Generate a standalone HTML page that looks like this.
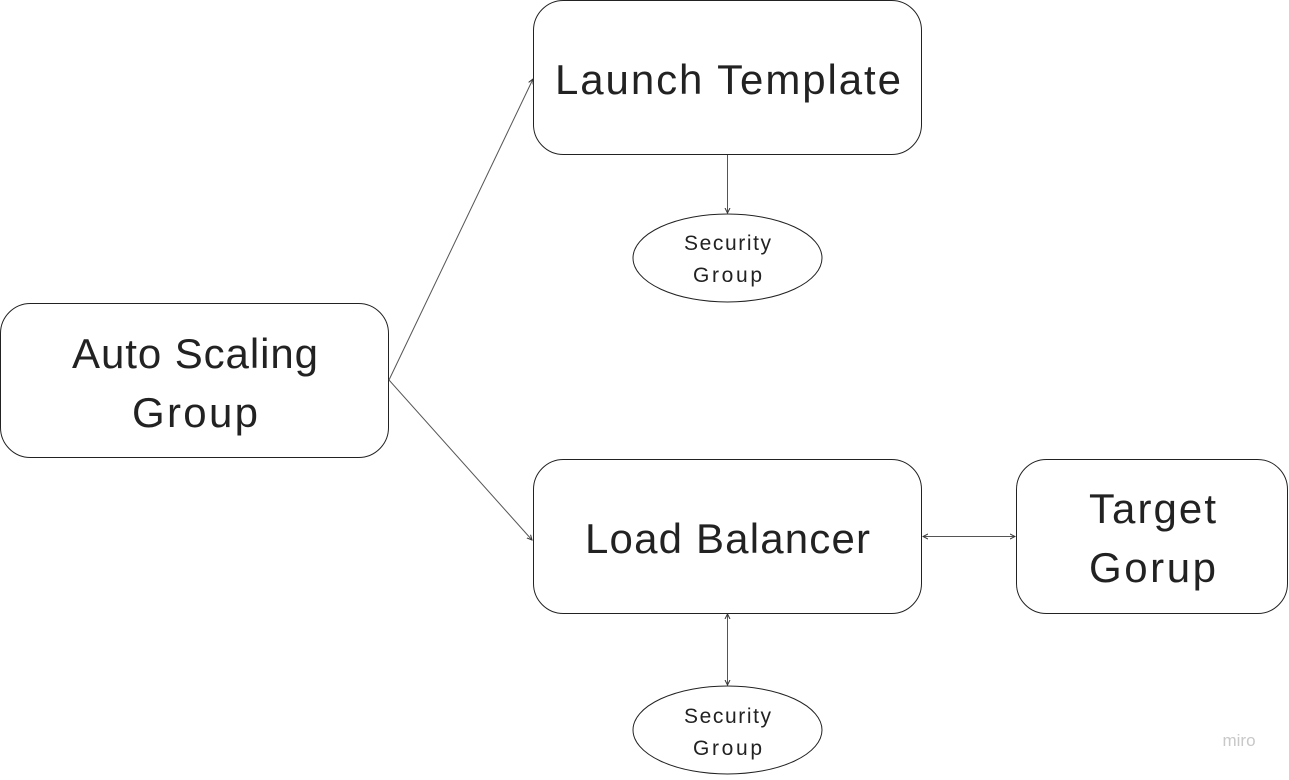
<!DOCTYPE html>
<html><head><style>
body{margin:0;background:#fff;width:1289px;height:775px;overflow:hidden;font-family:"Liberation Sans",sans-serif;}
</style></head><body>
<svg width="1289" height="775" xmlns="http://www.w3.org/2000/svg" font-family="Liberation Sans, sans-serif">
<defs><marker id="a" markerWidth="6" markerHeight="6" refX="5" refY="3" orient="auto-start-reverse"><path d="M0,0.5 L5,3 L0,5.5" fill="none" stroke="#333" stroke-width="1"/></marker></defs>
<g fill="#fff" stroke="#222" stroke-width="1">
<rect x="533.5" y="0.5" width="388" height="154" rx="30"/>
<rect x="0.5" y="303.5" width="388" height="154" rx="30"/>
<rect x="533.5" y="459.5" width="388" height="154" rx="30"/>
<rect x="1016.5" y="459.5" width="271" height="154" rx="30"/>
<ellipse cx="727.5" cy="258" rx="94.5" ry="44"/>
<ellipse cx="727.5" cy="730" rx="94.5" ry="44"/>
</g>
<g stroke="#555" stroke-width="1" fill="none">
<line x1="389" y1="380" x2="533" y2="79" marker-end="url(#a)"/>
<line x1="389" y1="380" x2="532" y2="540" marker-end="url(#a)"/>
<line x1="727.5" y1="155" x2="727.5" y2="213" marker-end="url(#a)"/>
<line x1="923" y1="536.5" x2="1015" y2="536.5" marker-start="url(#a)" marker-end="url(#a)"/>
<line x1="727.5" y1="614" x2="727.5" y2="685" marker-start="url(#a)" marker-end="url(#a)"/>
</g>
<g fill="#222" font-size="42" lengthAdjust="spacing">
<text x="555" y="94" textLength="346">Launch Template</text>
<text x="72" y="368" textLength="246">Auto Scaling</text>
<text x="132" y="427" textLength="126">Group</text>
<text x="585" y="553" textLength="285">Load Balancer</text>
<text x="1089" y="523" textLength="127">Target</text>
<text x="1089" y="582" textLength="127">Gorup</text>
</g>
<g fill="#222" font-size="21">
<text x="684" y="250" textLength="87">Security</text>
<text x="693" y="282" textLength="69">Group</text>
<text x="684" y="723" textLength="87">Security</text>
<text x="693" y="755" textLength="69">Group</text>
</g>
<text x="1239" y="746" fill="#c8c8c8" font-size="17" text-anchor="middle">miro</text>
</svg>
</body></html>
